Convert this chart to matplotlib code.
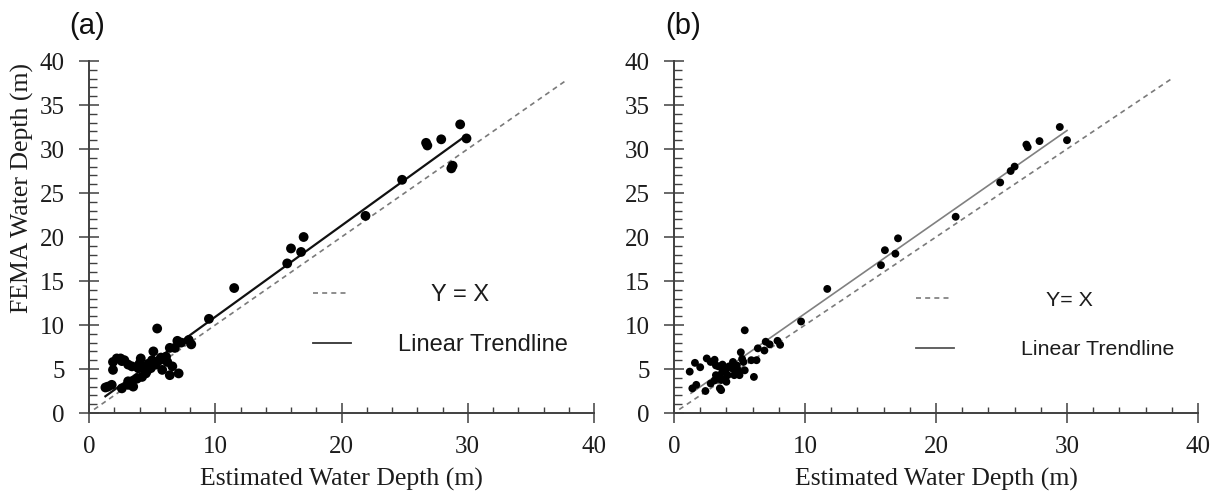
import matplotlib
matplotlib.use("Agg")
import matplotlib.pyplot as plt
from matplotlib.lines import Line2D
import numpy as np

# ---------------- data ----------------
a_est = [29.4, 29.9, 26.7, 26.8, 27.9, 28.8, 28.7, 24.8, 21.9, 17.0, 16.0, 16.8, 15.7, 11.5, 9.5, 5.4,
         7.0, 7.3, 7.9, 8.1, 6.8, 6.4, 5.1, 6.1, 5.6, 6.2, 6.6, 7.1, 6.4, 4.1, 4.0, 4.7, 4.9, 4.5,
         4.2, 3.8, 3.4, 3.5, 3.1, 2.6, 1.5, 1.8, 1.3, 1.9, 2.2, 2.5, 2.8, 3.1, 3.4, 1.9, 2.6, 5.3,
         5.8, 5.7, 4.4, 3.1, 3.9, 4.6, 5.0]
a_fema = [32.8, 31.2, 30.7, 30.4, 31.1, 28.1, 27.8, 26.5, 22.4, 20.0, 18.7, 18.3, 17.0, 14.2, 10.7, 9.6,
          8.2, 8.0, 8.3, 7.8, 7.4, 7.4, 7.0, 6.4, 6.0, 5.8, 5.3, 4.5, 4.3, 6.2, 5.6, 5.6, 5.1, 4.5,
          4.1, 3.9, 3.6, 3.0, 3.2, 2.8, 3.0, 3.2, 2.9, 5.8, 6.2, 6.2, 6.0, 5.5, 5.3, 4.9, 5.9, 5.5,
          4.9, 6.3, 4.9, 3.6, 5.1, 4.8, 6.0]

b_est = [29.45, 30.0, 27.9, 26.9, 27.0, 26.0, 25.7, 24.9, 21.5, 17.1, 16.1, 16.9, 15.8, 11.7, 9.7, 5.4,
         7.9, 8.1, 7.3, 7.0, 6.9, 6.4, 5.1, 5.2, 5.3, 5.9, 6.3, 6.1, 1.2, 1.6, 2.0, 2.5, 2.8, 3.1,
         3.2, 3.4, 3.7, 4.0, 4.2, 4.5, 4.8, 4.5, 4.9, 5.4, 5.0, 3.7, 4.1, 3.9, 3.6, 3.2, 1.4, 1.7,
         2.4, 2.8, 3.1, 3.5, 3.6, 4.0, 3.5, 4.6]
b_fema = [32.5, 31.0, 30.9, 30.5, 30.2, 28.0, 27.5, 26.2, 22.3, 19.85, 18.5, 18.1, 16.8, 14.1, 10.4, 9.4,
          8.2, 7.75, 7.8, 8.1, 7.1, 7.35, 6.9, 6.15, 5.8, 6.0, 6.0, 4.1, 4.7, 5.7, 5.2, 6.2, 5.8, 6.05,
          5.4, 5.3, 5.5, 5.0, 5.3, 5.8, 5.4, 5.0, 4.85, 4.85, 4.3, 4.7, 4.3, 3.9, 3.75, 4.3, 2.8, 3.2,
          2.5, 3.35, 3.7, 2.8, 2.6, 3.55, 4.3, 4.3]

# trendline end points and identity-line extent
a_trend_x = [1.3, 29.55]
a_trend_y = [1.9, 31.2]
b_trend_x = [1.3, 30.0]
b_trend_y = [2.25, 32.1]
a_identity = [0.4, 37.9]
b_identity = [0.4, 38.0]

x_ticks = [0, 10, 20, 30, 40]
y_ticks = [0, 5, 10, 15, 20, 25, 30, 35, 40]
x_label = "Estimated Water Depth (m)"
y_label = "FEMA Water Depth (m)"
legend_identity = ["Y = X", "Y= X"]
legend_trend = "Linear Trendline"
panel_labels = ["(a)", "(b)"]

# ---------------- figure ----------------
fig = plt.figure(figsize=(12.22, 4.94), dpi=100)
W, H = 1222, 494
ax_a = fig.add_axes([89 / W, (H - 413) / H, 505 / W, 352 / H])
ax_b = fig.add_axes([674 / W, (H - 413) / H, 524 / W, 352 / H])

serif = ["Liberation Serif", "DejaVu Serif"]
sans = ["Liberation Sans", "DejaVu Sans"]
spine_col = "#404040"
text_col = "#1c1c1c"
dash_col = "#7a7a7a"


def style_axes(ax):
    ax.set_xlim(0, 40)
    ax.set_ylim(0, 40)
    for s in ["top", "right"]:
        ax.spines[s].set_visible(False)
    for s in ["left", "bottom"]:
        ax.spines[s].set_color(spine_col)
        ax.spines[s].set_linewidth(1.4)
    ax.set_xticks(x_ticks)
    ax.set_yticks(y_ticks)
    ax.set_xticks(np.arange(0, 41, 2), minor=True)
    ax.set_yticks(np.arange(0, 41, 1), minor=True)
    ax.tick_params(axis="both", which="major", direction="inout", length=15, width=1.1,
                   color=spine_col, labelsize=18, labelcolor=text_col)
    ax.tick_params(axis="x", which="major", pad=9)
    ax.tick_params(axis="y", which="major", pad=10)
    ax.tick_params(axis="x", which="minor", direction="in", length=4.5, width=1.0, color=spine_col)
    ax.tick_params(axis="y", which="minor", direction="in", length=5.5, width=1.0, color=spine_col)
    for lab in ax.get_xticklabels() + ax.get_yticklabels():
        lab.set_family(serif)
    ax.set_xlabel(x_label, family=serif, fontsize=18.5, color=text_col, labelpad=7)


def add_legend(ax, fs, x0, y_id, y_tr, hl_id, pad_id, hl_tr, pad_tr, lw_tr, col_tr, id_text):
    h1 = Line2D([], [], color=dash_col, lw=1.2, ls=(0, (3, 2.5)))
    h2 = Line2D([], [], color=col_tr, lw=lw_tr)
    l1 = ax.legend([h1], [id_text], loc="center left", bbox_to_anchor=(x0, y_id),
                   frameon=False, borderpad=0, borderaxespad=0, handlelength=hl_id,
                   handletextpad=pad_id, prop={"family": sans, "size": fs})
    for t in l1.get_texts():
        t.set_color(text_col)
    ax.add_artist(l1)
    l2 = ax.legend([h2], [legend_trend], loc="center left", bbox_to_anchor=(x0, y_tr),
                   frameon=False, borderpad=0, borderaxespad=0, handlelength=hl_tr,
                   handletextpad=pad_tr, prop={"family": sans, "size": fs})
    for t in l2.get_texts():
        t.set_color(text_col)


# ---- panel (a) ----
style_axes(ax_a)
ax_a.plot(a_identity, a_identity, color=dash_col, lw=1.2, ls=(0, (3, 2.5)), zorder=1)
ax_a.plot(a_trend_x, a_trend_y, color="#111111", lw=1.6, zorder=2)
ax_a.scatter(a_est, a_fema, s=50, color="black", edgecolors="none", zorder=3)
ax_a.set_ylabel(y_label, family=serif, fontsize=18.5, color=text_col)
ax_a.yaxis.set_label_coords(-0.108, 0.64)
ax_a.text(-0.004, 1.099, panel_labels[0], transform=ax_a.transAxes, ha="center", va="center",
          family=sans, fontsize=21, color="#111111")
add_legend(ax_a, 17, 0.444, 0.335, 0.192, 1.53, 3.47, 1.62, 1.95, 1.3, "#333333", legend_identity[0])

# ---- panel (b) ----
style_axes(ax_b)
ax_b.plot(b_identity, b_identity, color=dash_col, lw=1.2, ls=(0, (3, 2.5)), zorder=1)
ax_b.plot(b_trend_x, b_trend_y, color="#808080", lw=1.2, zorder=2)
ax_b.scatter(b_est, b_fema, s=32, color="black", edgecolors="none", zorder=3)
ax_b.text(0.017, 1.10, panel_labels[1], transform=ax_b.transAxes, ha="center", va="center",
          family=sans, fontsize=21, color="#111111")
add_legend(ax_b, 15.4, 0.461, 0.32, 0.18, 1.67, 4.45, 1.78, 3.16, 1.3, "#555555", legend_identity[1])

fig.savefig("out.png", dpi=100, facecolor="white")
